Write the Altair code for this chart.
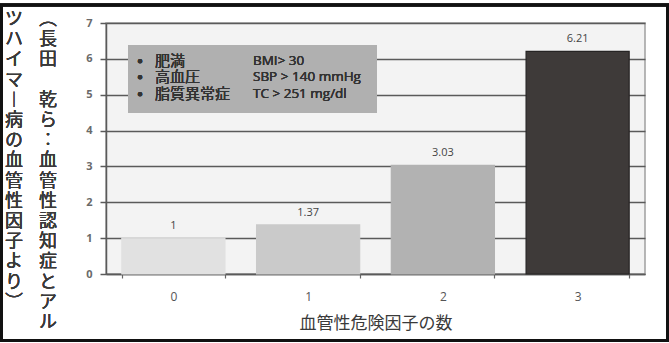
import altair as alt
import pandas as pd

# Relative risk by number of vascular risk factors
categories = ["0", "1", "2", "3"]
relative_risk = [1, 1.37, 3.03, 6.21]
value_labels = ["1", "1.37", "3.03", "6.21"]
bar_colors = ["#e1e1e1", "#cacaca", "#b2b2b2", "#3e3a39"]
bar_strokes = ["#e1e1e1", "#cacaca", "#b2b2b2", "#262424"]

# Risk factor definitions shown in the inset box
risk_factors = ["肥満", "高血圧", "脂質異常症"]
criteria = ["BMI> 30", "SBP > 140 mmHg", "TC > 251 mg/dl"]

# Source note, written vertically (right column first)
source_right = "（長田　乾ら：血管性認知症とアル"
source_left = "ツハイマー病の血管性因子より）"
x_title = "血管性危険因子の数"

JP = "Noto Sans CJK JP"
LAT = "Open Sans"

W, H = 539, 251
LINE = 20.2       # vertical pitch of the source note
NOTE_TOP = -12    # top of the note, relative to the plot area

vertical_forms = {"（": "︵", "）": "︶", "：": "︰", "ー": "︱"}


def vertical(s):
    return [vertical_forms.get(c, c) for c in s]


bars_df = pd.DataFrame({
    "n": categories,
    "rr": relative_risk,
    "label": value_labels,
    "fill": bar_colors,
    "stroke": bar_strokes,
})

x_enc = alt.X(
    "n:N",
    sort=categories,
    scale=alt.Scale(paddingInner=0.235, paddingOuter=0.1175),
    axis=alt.Axis(
        title=x_title,
        titleFont=JP,
        titleFontSize=17,
        titleFontWeight="normal",
        titleColor="#3a3a3a",
        titlePadding=13,
        labelAngle=0,
        labelFont=LAT,
        labelFontSize=12,
        labelColor="#555555",
        labelPadding=13,
        ticks=True,
        tickBand="extent",
        tickSize=4,
        tickWidth=1.2,
        tickColor="#666666",
        domainColor="#5a5a5a",
        domainWidth=1.5,
        grid=False,
    ),
)

y_enc = alt.Y(
    "rr:Q",
    scale=alt.Scale(domain=[0, 7], nice=False),
    axis=alt.Axis(
        title=None,
        values=[0, 1, 2, 3, 4, 5, 6, 7],
        labelFont=LAT,
        labelFontSize=11,
        labelFontWeight="bold",
        labelColor="#6a6a6a",
        labelPadding=8,
        tickSize=6,
        tickColor="#5a5a5a",
        tickWidth=1.5,
        domainColor="#5a5a5a",
        domainWidth=1.5,
        grid=True,
        gridColor="#5a5a5a",
        gridWidth=1.5,
    ),
)

bars = alt.Chart(bars_df).mark_bar(strokeWidth=1.2).encode(
    x=x_enc,
    y=y_enc,
    fill=alt.Fill("fill:N", scale=None),
    stroke=alt.Stroke("stroke:N", scale=None),
)

bar_text = alt.Chart(bars_df).mark_text(
    baseline="bottom", dy=-7, font=LAT, fontSize=11, color="#444444"
).encode(x=x_enc, y=y_enc, text="label:N")

# Inset box listing the risk factors
box = alt.Chart(bars_df).mark_rect(color="#b0b0b0").encode(
    x=alt.value(22), x2=alt.value(271), y=alt.value(22), y2=alt.value(90)
)
legend_text_opts = dict(baseline="middle", lineHeight=16.5, align="left", color="#333333")
bullets = alt.Chart(bars_df).mark_text(
    font=LAT, fontSize=10, **{**legend_text_opts, "align": "center"}
).encode(x=alt.value(34), y=alt.value(37.5), text=alt.value(["●"] * len(risk_factors)))
names = alt.Chart(bars_df).mark_text(font=JP, fontSize=15, **legend_text_opts).encode(
    x=alt.value(49), y=alt.value(37.5), text=alt.value(risk_factors)
)
crit = alt.Chart(bars_df).mark_text(font=LAT, fontSize=13.5, **legend_text_opts).encode(
    x=alt.value(147), y=alt.value(37.5), text=alt.value(criteria)
)

# Vertical source note to the left of the axis; each column is split at
# its full-width spaces so the gap keeps its own line.
note_opts = dict(font=JP, fontSize=18, lineHeight=LINE,
                 align="center", baseline="top", color="#3a3a3a")


def note_column(text, x):
    layers = []
    start = 0
    for seg in text.split("　"):
        if seg:
            layers.append(
                alt.Chart(bars_df).mark_text(**note_opts).encode(
                    x=alt.value(x),
                    y=alt.value(NOTE_TOP + start * LINE),
                    text=alt.value(vertical(seg)),
                )
            )
        start += len(seg) + 1
    return layers


notes = note_column(source_right, 48 - 106) + note_column(source_left, 14 - 106)

# Outer frame around the whole figure
frame = alt.Chart(bars_df).mark_rect(fillOpacity=0, stroke="#111111", strokeWidth=3).encode(
    x=alt.value(-104.5), x2=alt.value(561.5), y=alt.value(-18), y2=alt.value(317.5)
)

chart = (
    alt.layer(box, bars, bar_text, bullets, names, crit, *notes, frame)
    .properties(
        width=W,
        height=H,
        autosize=alt.AutoSizeParams(type="none"),
        padding={"left": 106, "top": 23, "right": 24, "bottom": 69},
        background="#ffffff",
    )
    .configure_view(fill="#f3f3f3", stroke="#a0a0a0", strokeWidth=1.5)
)

chart.save("out.html", embed_options={"renderer": "svg", "actions": False})
